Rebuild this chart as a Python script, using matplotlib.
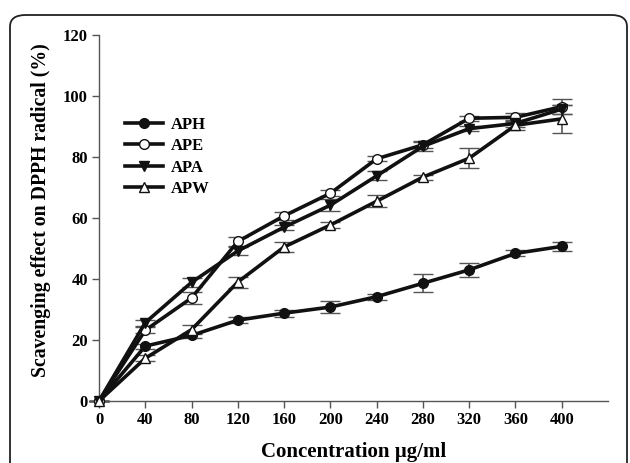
import matplotlib
matplotlib.use("Agg")
import matplotlib.pyplot as plt
from matplotlib.patches import FancyBboxPatch
from matplotlib.lines import Line2D

conc = [0, 40, 80, 120, 160, 200, 240, 280, 320, 360, 400]
aph = [0, 18.0, 21.5, 26.5, 28.8, 30.8, 34.2, 38.6, 43.0, 48.4, 50.7]
aph_err = [0, 0.8, 0.8, 1.0, 1.2, 2.0, 1.0, 3.0, 2.3, 1.0, 1.5]
ape = [0, 23.2, 33.8, 52.3, 60.7, 68.1, 79.4, 84.0, 92.7, 93.0, 96.5]
ape_err = [0, 1.0, 2.0, 1.5, 1.2, 1.0, 0.8, 1.2, 0.8, 1.5, 2.5]
apa = [0, 25.7, 38.9, 49.2, 57.0, 64.2, 73.8, 83.5, 89.3, 91.0, 95.7]
apa_err = [0, 1.0, 1.5, 1.2, 0.8, 2.0, 1.5, 1.5, 0.8, 1.0, 1.5]
apw = [0, 14.0, 23.4, 39.0, 50.5, 57.7, 65.5, 73.4, 79.6, 90.4, 92.5]
apw_err = [0, 1.0, 1.5, 1.8, 1.5, 1.0, 2.0, 0.8, 3.3, 1.5, 4.5]

xticks = [0, 40, 80, 120, 160, 200, 240, 280, 320, 360, 400]
yticks = [0, 20, 40, 60, 80, 100, 120]

plt.rcParams['font.family'] = ['Liberation Serif', 'DejaVu Serif']
plt.rcParams['font.weight'] = 'bold'

fig = plt.figure(figsize=(6.3, 4.63), dpi=100)
frame = FancyBboxPatch((10/630, -0.05), (627-10)/630, (463-15)/463 + 0.05,
                       boxstyle="round,pad=0,rounding_size=0.025",
                       transform=fig.transFigure, fill=False,
                       edgecolor='#222222', linewidth=1.3)
fig.patches.append(frame)

ax = fig.add_axes([99/630, (463-401)/463, (608-99)/630, (401-35)/463])

series = [
    ("APH", aph, aph_err, dict(marker='o', mfc='#111111', mec='#111111')),
    ("APE", ape, ape_err, dict(marker='o', mfc='white', mec='#111111')),
    ("APA", apa, apa_err, dict(marker='v', mfc='#111111', mec='#111111')),
    ("APW", apw, apw_err, dict(marker='^', mfc='white', mec='#111111')),
]
handles = []
for name, y, e, st in series:
    ax.errorbar(conc, y, yerr=e, color='#111111', lw=2.6, ms=7, mew=1.0,
                ecolor='#555555', elinewidth=1.2, capsize=7, capthick=1.2,
                clip_on=False, zorder=3, **st)
    handles.append(Line2D([], [], color='#111111', lw=2.6, ms=7, mew=1.0,
                          label=name, **st))

ax.set_xlim(0, 440)
ax.set_ylim(0, 120)
ax.set_xticks(xticks)
ax.set_yticks(yticks)
for s in ['top', 'right']:
    ax.spines[s].set_visible(False)
for s in ['left', 'bottom']:
    ax.spines[s].set_color('#555555')
    ax.spines[s].set_linewidth(1.0)
ax.tick_params(direction='out', length=5, width=1.0, color='#555555',
               labelsize=12, pad=3)
for lab in ax.get_xticklabels() + ax.get_yticklabels():
    lab.set_fontweight('bold')

ax.set_xlabel("Concentration µg/ml", fontsize=15, fontweight='bold', labelpad=10)
ax.set_ylabel("Scavenging effect on DPPH radical (%)", fontsize=14.2,
              fontweight='bold')
ax.yaxis.set_label_coords(-0.094, 0.522)

leg = ax.legend(handles=handles, loc='upper left', bbox_to_anchor=(0.051, 0.777),
                frameon=False, fontsize=12, handlelength=2.3, handletextpad=0.45,
                labelspacing=0.33, borderpad=0, borderaxespad=0)
for t in leg.get_texts():
    t.set_fontweight('bold')

fig.savefig("out.png", dpi=100)
